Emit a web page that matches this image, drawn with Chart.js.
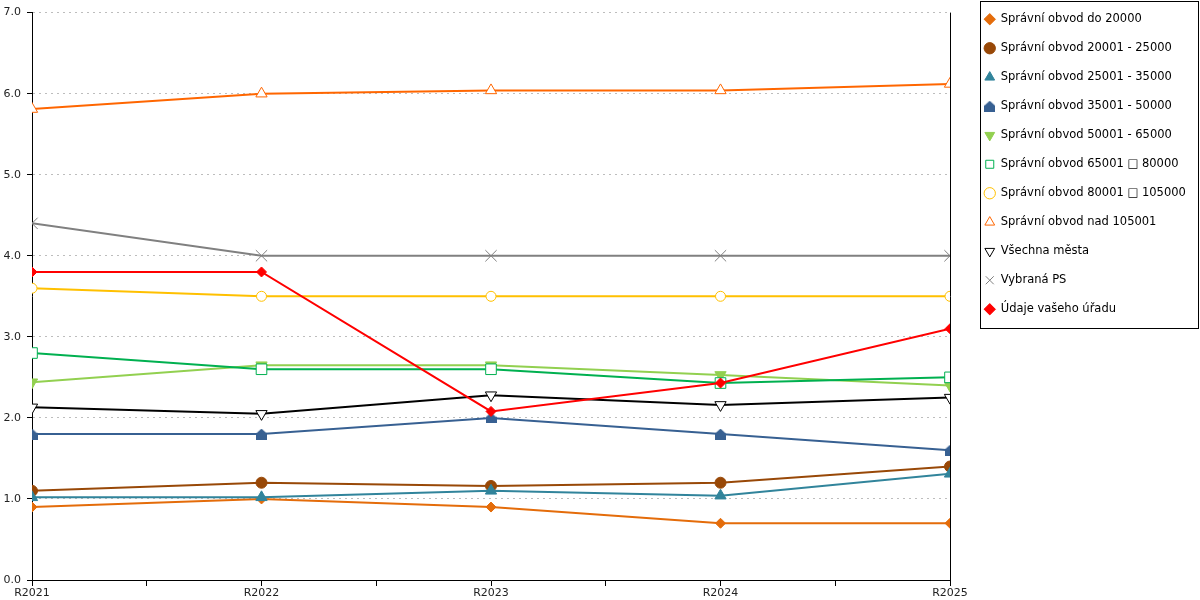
<!DOCTYPE html>
<html lang="cs">
<head>
<meta charset="utf-8">
<title>Graf</title>
<script src="https://cdn.jsdelivr.net/npm/chart.js@4.4.1/dist/chart.umd.min.js"></script>
<style>
  html, body { margin: 0; padding: 0; background: #fff; }
  #wrap { width: 1200px; height: 600px; position: relative; }
</style>
</head>
<body>
<div id="wrap"><canvas id="graf"></canvas></div>
<script>
// kategorie a popisky osy Y
const years = ['R2021', 'R2022', 'R2023', 'R2024', 'R2025'];
const yTickLabels = ['0.0', '1.0', '2.0', '3.0', '4.0', '5.0', '6.0', '7.0'];

// hodnoty jednotlivych rad
const obvodDo20000 = [0.9, 1.0, 0.9, 0.7, 0.7];
const obvod20001 = [1.1, 1.2, 1.16, 1.2, 1.4];
const obvod25001 = [1.02, 1.02, 1.1, 1.04, 1.31];
const obvod35001 = [1.8, 1.8, 2.0, 1.8, 1.6];
const obvod50001 = [2.44, 2.65, 2.65, 2.53, 2.4];
const obvod65001 = [2.8, 2.6, 2.6, 2.43, 2.5];
const obvod80001 = [3.6, 3.5, 3.5, 3.5, 3.5];
const obvodNad105001 = [5.81, 6.0, 6.04, 6.04, 6.12];
const vsechnaMesta = [2.13, 2.05, 2.28, 2.16, 2.25];
const vybranaPS = [4.4, 4.0, 4.0, 4.0, 4.0];
const vasUrad = [3.8, 3.8, 2.08, 2.43, 3.1];

// znacka "domecek" pro radu 35001 - 50000
function makeHouse(color, size) {
  const c = document.createElement('canvas');
  c.width = size;
  c.height = size;
  const g = c.getContext('2d');
  g.fillStyle = color;
  g.beginPath();
  g.moveTo(size / 2, 0);
  g.lineTo(size, size * 0.45);
  g.lineTo(size, size);
  g.lineTo(0, size);
  g.lineTo(0, size * 0.45);
  g.closePath();
  g.fill();
  return c;
}

const series = [
  { label: 'Správní obvod do 20000', data: obvodDo20000, color: '#E46C0A', style: 'rectRot', r: 5 },
  { label: 'Správní obvod 20001 - 25000', data: obvod20001, color: '#984807', style: 'circle', r: 5.5 },
  { label: 'Správní obvod 25001 - 35000', data: obvod25001, color: '#31849B', style: 'triangle', r: 6.5 },
  { label: 'Správní obvod 35001 - 50000', data: obvod35001, color: '#376092', style: makeHouse('#376092', 11), r: 6 },
  { label: 'Správní obvod 50001 - 65000', data: obvod50001, color: '#92D050', style: 'triangle', rot: 180, r: 6.5 },
  { label: 'Správní obvod 65001 □ 80000', data: obvod65001, color: '#00B050', style: 'rect', r: 7.5, hollow: true },
  { label: 'Správní obvod 80001 □ 105000', data: obvod80001, color: '#FFC000', style: 'circle', r: 5, hollow: true },
  { label: 'Správní obvod nad 105001', data: obvodNad105001, color: '#FF6600', style: 'triangle', r: 6.5, hollow: true },
  { label: 'Všechna města', data: vsechnaMesta, color: '#000000', style: 'triangle', rot: 180, r: 6.5, hollow: true },
  { label: 'Vybraná PS', data: vybranaPS, color: '#808080', style: 'crossRot', r: 8, hollow: true },
  { label: 'Údaje vašeho úřadu', data: vasUrad, color: '#FF0000', style: 'rectRot', r: 5 }
];

const datasets = series.map((s, i) => ({
  label: s.label,
  data: s.data.map((v, idx) => ({ x: idx, y: v })),
  borderColor: s.color,
  backgroundColor: s.color,
  borderWidth: 2,
  tension: 0,
  fill: false,
  pointStyle: s.style,
  pointRotation: s.rot || 0,
  pointRadius: s.r,
  pointHoverRadius: s.r,
  pointBorderWidth: 1,
  pointBorderColor: s.color,
  pointBackgroundColor: s.hollow ? '#ffffff' : s.color,
  order: series.length - i // pozdejsi rady kreslit navrch
}));

// legenda vpravo s ramečkem
const legendBox = {
  id: 'legendBox',
  beforeInit(chart) {
    const fit = chart.legend.fit;
    chart.legend.fit = function () {
      fit.call(this);
      this.width = 250;
    };
  },
  afterLayout(chart) {
    const lg = chart.legend;
    lg.left = 967;
    lg.right = 1200;
    lg.top = -4;
  },
  afterDraw(chart) {
    const ctx = chart.ctx;
    ctx.save();
    ctx.strokeStyle = '#000';
    ctx.lineWidth = 1;
    ctx.strokeRect(980.5, 1.5, 218, 327);
    ctx.restore();
  }
};

Chart.defaults.font.family = '"DejaVu Sans", sans-serif';

new Chart(document.getElementById('graf'), {
  type: 'line',
  data: { datasets: datasets },
  options: {
    responsive: true,
    maintainAspectRatio: false,
    animation: false,
    events: [],
    layout: { padding: { top: 10, left: 0, right: 0, bottom: 0 } },
    scales: {
      x: {
        type: 'linear',
        min: 0,
        max: 4,
        afterFit: (s) => { s.height = 20; },
        ticks: {
          stepSize: 0.5,
          autoSkip: false,
          maxRotation: 0,
          padding: 1,
          color: '#222',
          font: { size: 11 },
          callback: (v) => Number.isInteger(v) ? years[v] : ''
        },
        grid: {
          color: (c) => (c.tick && c.tick.value === 4) ? '#000' : 'rgba(0,0,0,0)',
          tickColor: '#000',
          tickLength: 6
        },
        border: { color: '#000' }
      },
      y: {
        min: 0,
        max: 7,
        afterFit: (s) => { s.width = 32; },
        ticks: {
          stepSize: 1,
          padding: 6,
          color: '#222',
          font: { size: 11 },
          callback: (v) => yTickLabels[v]
        },
        grid: { color: '#bdbdbd', tickColor: '#000', tickLength: 5, tickBorderDash: [] },
        border: { color: '#000', dash: [2, 4] }
      }
    },
    plugins: {
      legend: {
        position: 'right',
        align: 'start',
        labels: {
          usePointStyle: true,
          boxWidth: 10.5,
          boxHeight: 8,
          padding: 17.5,
          color: '#000',
          font: { size: 11.5 },
          sort: (a, b) => a.datasetIndex - b.datasetIndex
        }
      },
      tooltip: { enabled: false }
    }
  },
  plugins: [legendBox]
});
</script>
</body>
</html>
